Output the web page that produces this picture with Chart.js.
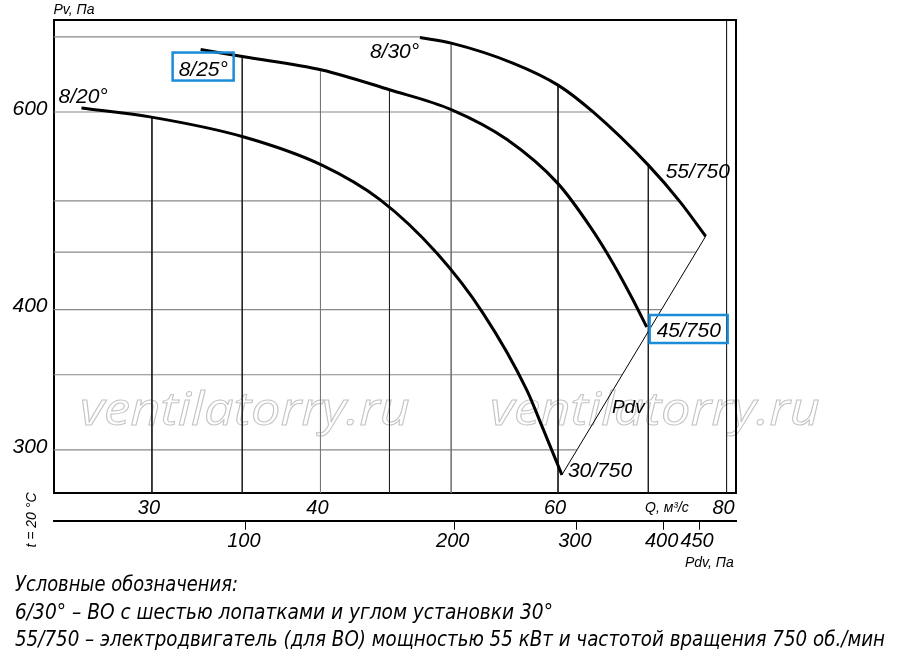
<!DOCTYPE html>
<html>
<head>
<meta charset="utf-8">
<script src="https://cdn.jsdelivr.net/npm/chart.js@4.4.1/dist/chart.umd.min.js"></script>
<style>
  html, body { margin: 0; padding: 0; background: #fff; }
  #wrap { position: relative; width: 900px; height: 658px; overflow: hidden; }
  canvas { position: absolute; left: 0; top: 0; }
  .leg {
    position: absolute; left: 15px; white-space: nowrap; line-height: 1;
    font: italic 21px "Liberation Sans Narrow", "DejaVu Sans Condensed", sans-serif;
    color: #000; transform-origin: 0 0;
  }
</style>
</head>
<body>
<div id="wrap">
  <canvas id="grafico" width="900" height="658"></canvas>
  <div class="leg" id="l1" style="top:572px">Условные обозначения:</div>
  <div class="leg" id="l2" style="top:600px">6/30° – ВО с шестью лопатками и углом установки 30°</div>
  <div class="leg" id="l3" style="top:627px">55/750 – электродвигатель (для ВО) мощностью 55 кВт и частотой вращения 750 об./мин</div>
</div>
<script>
// Curvas del ventilador: Q (m³/s) y Pv (Pa)
const q20 = [26.6, 29.9, 35.1, 40.1, 44.3, 48.8, 52.8, 56.9, 58.5, 60.4];
const p20 = [605, 594, 570, 538, 501, 449, 397, 339, 313, 285];

const q25 = [32.6, 35.1, 40.1, 45.0, 50.0, 55.0, 60.0, 63.4, 65.9, 68.2, 69.8];
const p25 = [682, 672, 654, 628, 603, 567, 518, 474, 440, 408, 386];

const q30 = [47.4, 50.0, 55.6, 60.0, 63.7, 70.0, 73.9, 77.2];
const p30 = [699, 691, 663, 634, 600, 538, 499, 465];

// Línea Pdv (de 30/750 a 55/750)
const qPdv = [60.4, 77.2];
const pPdv = [285, 465];

// Rejilla y marcas de los ejes
const gridQ = [30, 35, 40, 45, 50, 60, 70, 80];
const gridP = [300, 350, 400, 450, 500, 600, 700];
const ticksQ = [30, 40, 60, 80];
const ticksP = [300, 400, 600];
const ticksPdv = [100, 200, 300, 400, 450];

// Límites de los ejes
const qMin = 25.36, qMax = 81.3;
const pMin = 274.6, pMax = 724.6;
const pdvMin = 52.8, pdvMax = 508.7;

const fuente = (t) => `italic ${t}px "Liberation Sans", Arial, sans-serif`;

// interpolación en escala log entre dos puntos vecinos
function interpLog(xs, ys, v) {
  for (let i = 0; i < xs.length - 1; i++) {
    const a = xs[i], b = xs[i + 1];
    if ((v >= a && v <= b) || (v <= a && v >= b)) {
      const t = (Math.log(v) - Math.log(a)) / (Math.log(b) - Math.log(a));
      return Math.exp(Math.log(ys[i]) + t * (Math.log(ys[i + 1]) - Math.log(ys[i])));
    }
  }
  return null;
}

// arriba de cada línea vertical: la curva más alta en ese Q
function topeVertical(q) {
  const vals = [[q20, p20], [q25, p25], [q30, p30]]
    .map(([qs, ps]) => interpLog(qs, ps, q))
    .filter((v) => v !== null);
  return vals.length ? Math.max(...vals) : pMax;
}

// fin de cada línea horizontal: curva 8/30 y luego la línea Pdv
const bordeQ = q30.concat([qPdv[0]]);
const bordeP = p30.concat([pPdv[0]]);
function finHorizontal(p) {
  if (p >= bordeP[0]) return bordeQ[0];
  return interpLog(bordeP, bordeQ, p);
}

const lineasV = gridQ.map((q) => ({
  data: [{ x: q, y: topeVertical(q) }, { x: q, y: pMin }],
  borderColor: q === 40 || q === 50 ? "#777" : "#222",
  borderWidth: 1,
  pointRadius: 0,
  showLine: true,
  order: 10,
}));

const lineasH = gridP.map((p) => ({
  data: [{ x: qMin, y: p }, { x: finHorizontal(p), y: p }],
  borderColor: "#888",
  borderWidth: 1.2,
  pointRadius: 0,
  showLine: true,
  order: 10,
}));

const curva = (qs, ps) => ({
  data: qs.map((q, i) => ({ x: q, y: ps[i] })),
  borderColor: "#000",
  borderWidth: 3,
  pointRadius: 0,
  showLine: true,
  cubicInterpolationMode: "monotone",
  order: 0,
});

// textos del dibujo, anclados a los extremos de las curvas
const rotulos = {
  id: "rotulos",
  beforeDatasetsDraw(chart) {
    const { ctx } = chart;
    ctx.save();
    ctx.font = "italic 46px \"Open Sans\", sans-serif";
    ctx.strokeStyle = "#c4c4c4";
    ctx.lineWidth = 1;
    [80, 490].forEach((x0) => {
      const w = ctx.measureText("ventilatorry.ru").width;
      ctx.save();
      ctx.translate(x0, 425);
      ctx.scale(330 / w, 1);
      ctx.strokeText("ventilatorry.ru", 0, 0);
      ctx.restore();
    });
    ctx.restore();
  },
  afterDraw(chart) {
    const { ctx, chartArea: a, scales } = chart;
    const px = (q) => scales.x.getPixelForValue(q);
    const py = (p) => scales.y.getPixelForValue(p);
    ctx.save();
    ctx.fillStyle = "#000";
    ctx.textBaseline = "alphabetic";
    ctx.textAlign = "left";

    // marco superior y derecho
    ctx.strokeStyle = "#000";
    ctx.lineWidth = 2;
    ctx.beginPath();
    ctx.moveTo(a.left, a.top);
    ctx.lineTo(a.right, a.top);
    ctx.lineTo(a.right, a.bottom);
    ctx.stroke();

    const poner = (s, q, p, dx, dy, size) => {
      ctx.font = fuente(size);
      ctx.fillText(s, px(q) + dx, py(p) + dy);
    };
    const caja = (q, p, dx, dy, w, h) => {
      ctx.strokeStyle = "#1a8cd8";
      ctx.lineWidth = 2.5;
      ctx.strokeRect(px(q) + dx, py(p) + dy, w, h);
    };

    poner("8/20°", q20[0], p20[0], -23, -5, 21);
    caja(q25[0], p25[0], -28, 3, 61, 28);
    poner("8/25°", q25[0], p25[0], -22, 26, 21);
    poner("8/30°", q30[0], p30[0], -50, 20, 21);
    poner("55/750", q30[q30.length - 1], p30[p30.length - 1], -40, -58, 21);
    caja(q25[q25.length - 1], p25[p25.length - 1], 3, -12, 78, 28);
    poner("45/750", q25[q25.length - 1], p25[p25.length - 1], 10, 10, 21);
    poner("Pdv", qPdv[0], pPdv[0], 50, -62, 19);
    poner("30/750", qPdv[0], pPdv[0], 6, 2, 21);

    // títulos de los ejes
    ctx.font = fuente(14);
    ctx.fillText("Pv, Па", a.left, 14);
    ctx.fillText("Q, м³/с", 645, 512);
    ctx.fillText("Pdv, Па", 685, 567);
    ctx.save();
    ctx.translate(36, 520);
    ctx.rotate(-Math.PI / 2);
    ctx.textAlign = "center";
    ctx.fillText("t = 20 °C", 0, 0);
    ctx.restore();

    ctx.restore();
  },
};

new Chart(document.getElementById("grafico"), {
  type: "scatter",
  data: {
    datasets: [
      curva(q20, p20),
      curva(q25, p25),
      curva(q30, p30),
      {
        data: qPdv.map((q, i) => ({ x: q, y: pPdv[i] })),
        borderColor: "#000",
        borderWidth: 1,
        pointRadius: 0,
        showLine: true,
        order: 1,
      },
      ...lineasV,
      ...lineasH,
    ],
  },
  options: {
    responsive: false,
    animation: false,
    layout: { padding: { left: 0, right: 164, top: 20, bottom: 0 } },
    plugins: { legend: { display: false }, tooltip: { enabled: false } },
    scales: {
      x: {
        type: "logarithmic",
        position: "bottom",
        weight: 0,
        min: qMin,
        max: qMax,
        afterBuildTicks: (s) => { s.ticks = ticksQ.map((v) => ({ value: v })); },
        afterFit: (s) => { s.height = 27.7; },
        grid: { display: false },
        border: { display: true, color: "#000", width: 2 },
        ticks: {
          autoSkip: false, maxRotation: 0, padding: -5, labelOffset: -3,
          color: "#000", font: { family: "Liberation Sans", style: "italic", size: 20 },
          callback: (v) => String(v),
        },
      },
      x2: {
        type: "logarithmic",
        position: "bottom",
        weight: 1,
        min: pdvMin,
        max: pdvMax,
        afterBuildTicks: (s) => { s.ticks = ticksPdv.map((v) => ({ value: v })); },
        afterFit: (s) => { s.height = 658 - 493 - 27.7; },
        grid: { display: true, drawOnChartArea: false, drawTicks: true, tickLength: 9, color: "#000", lineWidth: 1 },
        border: { display: true, color: "#000", width: 2 },
        ticks: {
          autoSkip: false, maxRotation: 0, padding: 0, labelOffset: -2,
          color: "#000", font: { family: "Liberation Sans", style: "italic", size: 20 },
          callback: (v) => String(v),
        },
      },
      y: {
        type: "logarithmic",
        position: "left",
        min: pMin,
        max: pMax,
        afterBuildTicks: (s) => { s.ticks = ticksP.map((v) => ({ value: v })); },
        afterFit: (s) => { s.width = 53.5; },
        grid: { display: false },
        border: { display: true, color: "#000", width: 2 },
        ticks: {
          autoSkip: false, padding: -2, labelOffset: -3,
          color: "#000", font: { family: "Liberation Sans", style: "italic", size: 21 },
          callback: (v) => String(v),
        },
      },
    },
  },
  plugins: [rotulos],
});

// ajustar el ancho de las líneas de la leyenda
[["l1", 223], ["l2", 538], ["l3", 870]].forEach(([id, w]) => {
  const el = document.getElementById(id);
  el.style.transform = `scaleX(${w / el.getBoundingClientRect().width})`;
});
</script>
</body>
</html>
